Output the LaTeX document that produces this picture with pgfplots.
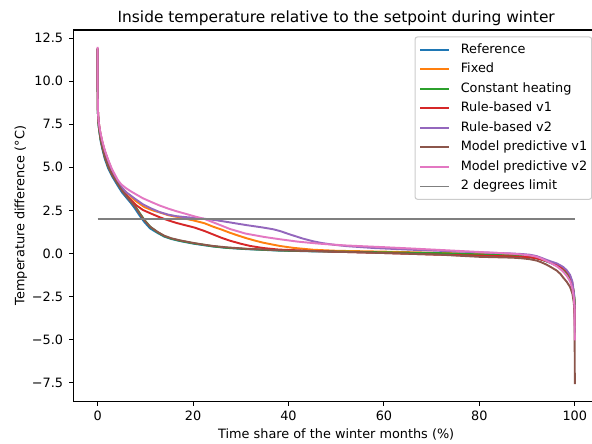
\documentclass[border=0pt]{standalone}
\usepackage{fontspec}
\setmainfont{DejaVu Sans}
\usepackage{pgfplots}
\pgfplotsset{compat=1.18}

\definecolor{c0}{HTML}{1F77B4}
\definecolor{c1}{HTML}{FF7F0E}
\definecolor{c2}{HTML}{2CA02C}
\definecolor{c3}{HTML}{D62728}
\definecolor{c4}{HTML}{9467BD}
\definecolor{c5}{HTML}{8C564B}
\definecolor{c6}{HTML}{E377C2}
\definecolor{c7}{HTML}{7F7F7F}

\begin{document}
\begin{tikzpicture}
\begin{axis}[
  name=ax,
  scale only axis,
  width=408.6bp, height=288.8bp,
  xmin=-5, xmax=105, ymin=-8.58, ymax=12.98,
  axis line style={black, line width=0.8bp},
  tick align=outside, tick pos=left,
  major tick length=3.5bp,
  tick style={black, line width=0.8bp},
  xtick={0,20,40,60,80,100},
  ytick={-7.5,-5,-2.5,0,2.5,5,7.5,10,12.5},
  yticklabels={−7.5,−5.0,−2.5,0.0,2.5,5.0,7.5,10.0,12.5},
  /pgf/number format/assume math mode=true,
  ticklabel style={font=\fontsize{10bp}{12bp}\selectfont, inner sep=0pt},
  xticklabel style={anchor=north, yshift=-4.3bp},
  yticklabel style={anchor=east, xshift=-4.6bp},
  title={Inside temperature relative to the setpoint during winter},
  xlabel={Time share of the winter months (\%)},
  ylabel={Temperature difference (°C)},
  every axis title/.style={at={(axis description cs:0.5,1)}, anchor=base, yshift=6bp, inner sep=0pt, font=\fontsize{12bp}{14bp}\selectfont},
  every axis x label/.style={at={(axis description cs:0.5,0)}, anchor=base, yshift=-29.5bp, inner sep=0pt, font=\fontsize{10bp}{12bp}\selectfont},
  every axis y label/.style={at={(axis description cs:0,0.5)}, xshift=-38.4bp, rotate=90, anchor=base, inner sep=0pt, font=\fontsize{10bp}{12bp}\selectfont},
  every axis plot/.append style={line width=1.5bp, line join=round, mark=none},
  legend cell align=left,
  legend image code/.code={\draw[#1, line width=1.5bp] (0bp,0bp) -- (22bp,0bp);},
  legend style={at={(rel axis cs:1,1)}, anchor=north east, xshift=-5bp, yshift=-5bp,
    draw=black!20, line width=0.8bp, fill=white, rounded corners=2bp,
    font=\fontsize{10bp}{12bp}\selectfont,
    inner xsep=3.5bp, inner ysep=5bp, row sep=5.2bp, column sep=8.6bp,
    nodes={inner sep=0pt, text height=7.6bp, text depth=2.4bp}},
]

% Reference
\addplot[c0] coordinates {
(0,11.9) (0.01,10.4) (0.02,9.5) (0.04,8.7) (0.07,8.15) (0.12,7.78) (0.2,7.45)
(0.35,7.1) (0.65,6.52) (1.0,6.05) (1.5,5.5) (2.2,4.95) (3.0,4.5) (4.3,3.9) (5.1,3.55)
(6.0,3.25) (6.9,2.95) (7.8,2.62) (8.8,2.2) (9.8,1.82) (11,1.45) (12.6,1.18) (14,0.97)
(15.4,0.84) (17.2,0.72) (18.3,0.66) (20,0.57) (22.4,0.47) (24.2,0.4) (27,0.32)
(31,0.25) (35,0.2) (38.2,0.16) (45,0.12) (52,0.09) (60,0.05) (72,0.0) (80,-0.07)
(87,-0.14) (89,-0.17) (90.6,-0.21) (92,-0.28) (93,-0.36) (94,-0.46) (95,-0.56)
(96.2,-0.71) (97,-0.86) (97.6,-0.99) (98.3,-1.2) (99,-1.47) (99.5,-1.88)
(99.8,-2.35) (99.95,-2.8) (100,-3.2)};
\addlegendentry{Reference}

% Fixed
\addplot[c1] coordinates {
(0,11.9) (0.01,10.6) (0.02,9.7) (0.04,8.9) (0.07,8.35) (0.12,8.0) (0.2,7.7)
(0.35,7.38) (0.6,6.95) (1.0,6.45) (1.5,5.95) (2.2,5.4) (3.0,4.82) (4.26,4.12)
(5.1,3.8) (6.0,3.55) (7.8,3.08) (9.8,2.69) (11.5,2.5) (13,2.38) (14.8,2.22) (16,2.15)
(17.2,2.1) (18.3,2.02) (20,1.92) (22.4,1.75) (24.2,1.55) (26,1.38) (27.7,1.2)
(29.5,1.03) (31.2,0.88) (33,0.74) (34.7,0.62) (36.5,0.52) (38.2,0.43) (41,0.32)
(45.2,0.21) (50,0.15) (60,0.1) (71.7,0.03) (80,-0.04) (87,-0.11) (89,-0.14)
(90.6,-0.18) (92,-0.25) (93,-0.33) (94.1,-0.44) (95,-0.53) (96.2,-0.66) (97,-0.8)
(97.6,-0.92) (98.3,-1.12) (99,-1.42) (99.5,-1.85) (99.8,-2.4) (99.95,-3.0) (100,-3.8)};
\addlegendentry{Fixed}

% Constant heating
\addplot[c2] coordinates {
(0,11.9) (0.01,10.4) (0.02,9.5) (0.04,8.7) (0.07,8.15) (0.12,7.8) (0.2,7.5)
(0.35,7.15) (0.65,6.6) (1.0,6.15) (1.5,5.6) (2.2,5.05) (3.0,4.6) (4.3,4.02) (5.1,3.68)
(6.0,3.38) (6.9,3.08) (7.8,2.78) (8.8,2.35) (9.8,1.95) (11,1.55) (12.6,1.22) (14,1.0)
(15.4,0.86) (17.2,0.74) (18.3,0.68) (20,0.59) (22.4,0.49) (24.2,0.41) (27,0.33)
(31,0.26) (35,0.21) (38.2,0.17) (45,0.13) (52,0.1) (60,0.06) (72,0.01) (80,-0.06)
(87,-0.13) (89,-0.16) (90.6,-0.2) (92,-0.27) (93,-0.35) (94,-0.45) (95,-0.55)
(96.2,-0.7) (97,-0.85) (97.6,-0.98) (98.3,-1.18) (99,-1.45) (99.5,-1.85)
(99.8,-2.3) (99.95,-2.7) (100,-3.0)};
\addlegendentry{Constant heating}

% Rule-based v1
\addplot[c3] coordinates {
(0,11.9) (0.01,10.6) (0.02,9.7) (0.04,8.9) (0.07,8.35) (0.12,8.0) (0.2,7.7)
(0.35,7.36) (0.6,6.9) (1.0,6.4) (1.5,5.9) (2.2,5.35) (3.0,4.8) (4.26,4.08) (5.3,3.6)
(6.4,3.27) (8,2.82) (9.5,2.52) (11.3,2.3) (13,2.1) (14.8,1.92) (16.5,1.77) (18.3,1.64)
(20.3,1.5) (22.4,1.3) (24.2,1.1) (26,0.9) (27.7,0.74) (30,0.56) (32,0.43) (34.7,0.31)
(38,0.22) (45.2,0.14) (52,0.08) (60,0.02) (71.7,-0.08) (80,-0.13) (87,-0.18)
(89,-0.2) (90.6,-0.23) (92,-0.29) (93,-0.36) (94.1,-0.45) (95,-0.54) (96.2,-0.66)
(97,-0.78) (97.6,-0.88) (98.3,-1.05) (99,-1.33) (99.5,-1.75) (99.8,-2.4)
(99.95,-3.1) (100,-4.2)};
\addlegendentry{Rule-based v1}

% Rule-based v2
\addplot[c4] coordinates {
(0,11.9) (0.01,10.6) (0.02,9.7) (0.04,8.9) (0.07,8.35) (0.12,8.0) (0.2,7.7)
(0.35,7.38) (0.6,6.95) (1.0,6.45) (1.5,5.95) (2.2,5.4) (3.0,4.85) (4.26,4.15)
(5.1,3.82) (6.0,3.55) (7.8,3.18) (9.5,2.85) (11.3,2.6) (13,2.4) (14.8,2.25)
(16.5,2.16) (18.3,2.11) (20,2.07) (22.4,2.01) (25,1.92) (27.7,1.8) (31,1.65)
(34.7,1.5) (36.8,1.4) (38.2,1.3) (40.3,1.1) (43,0.86) (45.2,0.7) (47,0.6) (49.5,0.5)
(52.2,0.42) (58,0.31) (65,0.22) (71.7,0.15) (80,0.06) (87,-0.01) (89,-0.04)
(90.6,-0.08) (92,-0.16) (93,-0.26) (94.1,-0.38) (95,-0.47) (96.2,-0.58) (97,-0.7)
(97.6,-0.8) (98.3,-0.98) (99,-1.25) (99.5,-1.65) (99.8,-2.3) (99.95,-3.0) (100,-4.6)};
\addlegendentry{Rule-based v2}

% Model predictive v1
\addplot[c5] coordinates {
(0,11.9) (0.01,10.4) (0.02,9.5) (0.04,8.7) (0.07,8.15) (0.12,7.8) (0.2,7.5)
(0.35,7.15) (0.65,6.6) (1.0,6.15) (1.5,5.6) (2.2,5.05) (3.0,4.58) (4.3,4.0) (5.1,3.65)
(6.0,3.33) (6.9,3.03) (7.8,2.73) (8.8,2.32) (9.8,1.92) (11,1.55) (12.6,1.24)
(14,1.02) (15.4,0.88) (17.2,0.76) (18.3,0.7) (20,0.61) (22.4,0.5) (24.2,0.43)
(27,0.35) (31,0.27) (35,0.22) (38.2,0.18) (45,0.13) (52,0.08) (60,0.02) (72,-0.08)
(80,-0.2) (87,-0.25) (89,-0.29) (90.6,-0.34) (92,-0.42) (93,-0.52) (94.1,-0.66)
(95,-0.8) (96.2,-1.0) (97,-1.2) (97.6,-1.42) (98.3,-1.65) (99,-1.95) (99.5,-2.35)
(99.8,-2.9) (99.95,-3.6) (100,-7.6)};
\addlegendentry{Model predictive v1}

% Model predictive v2
\addplot[c6] coordinates {
(0,12.0) (0.01,10.6) (0.02,9.7) (0.04,8.9) (0.07,8.35) (0.12,8.0) (0.2,7.72)
(0.35,7.4) (0.6,7.0) (1.0,6.5) (1.5,6.0) (2.2,5.45) (3.0,4.9) (4.26,4.25) (5.0,4.0)
(6.0,3.78) (7.0,3.6) (7.8,3.47) (9.5,3.2) (11.3,2.98) (13,2.78) (14.8,2.6) (16.5,2.45)
(18.3,2.31) (20.3,2.15) (22.4,2.0) (25,1.72) (27.7,1.42) (31,1.15) (35,0.95)
(38.2,0.82) (42,0.68) (46.6,0.56) (52,0.46) (60,0.36) (66,0.28) (71.7,0.2) (80,0.08)
(87,-0.02) (89,-0.07) (90.6,-0.12) (92,-0.2) (93,-0.3) (94.1,-0.45) (95,-0.57)
(96.2,-0.75) (97,-0.92) (97.6,-1.07) (98.3,-1.3) (99,-1.62) (99.5,-2.05)
(99.8,-2.6) (99.95,-3.3) (100,-5.05)};
\addlegendentry{Model predictive v2}

% 2 degrees limit
\addplot[c7] coordinates {(0,2) (100,2)};
\addlegendentry{2 degrees limit}

\end{axis}
\pgfresetboundingbox
\useasboundingbox ([shift={(-57.4bp,-32.7bp)}]ax.south west) rectangle ([shift={(403.4bp,23.35bp)}]ax.north west);
\end{tikzpicture}
\end{document}
